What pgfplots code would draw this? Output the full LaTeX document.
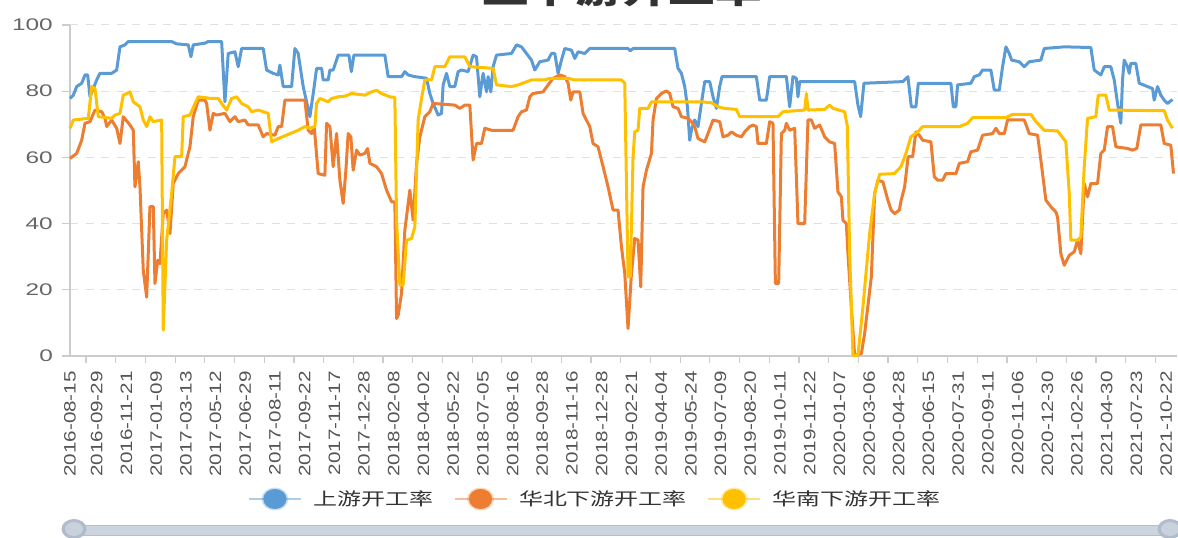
\documentclass[border=0pt]{standalone}
\usepackage{fontspec}
\usepackage{pgfplots}
\pgfplotsset{compat=1.18}
\setmainfont{Liberation Sans}
\newfontfamily\ylabfont[FakeStretch=1.45]{Liberation Sans}
\newfontfamily\xlabfont[FakeStretch=1.25]{Liberation Sans}
\newfontfamily\cjkfont[FakeStretch=1.37]{Noto Sans CJK SC}
\definecolor{cblue}{HTML}{5B9BD5}
\definecolor{corange}{HTML}{ED7D31}
\definecolor{cyellow}{HTML}{FFC000}
\definecolor{axgray}{HTML}{CCCCCC}
\definecolor{gridgray}{HTML}{E0E0E0}
\definecolor{labgray}{HTML}{666666}
\definecolor{xlabgray}{HTML}{555555}
\definecolor{legtext}{HTML}{333333}
\definecolor{sliderfill}{HTML}{CBD4DF}
\definecolor{slideredge}{HTML}{B3BFCD}
\definecolor{handleout}{HTML}{B0BCCB}
\definecolor{handlein}{HTML}{C8D1DC}
\begin{document}
\begin{tikzpicture}
\begin{axis}[
  at={(70pt,182pt)}, anchor=south west,
  width=1107pt, height=331pt, scale only axis,
  xmin=70, xmax=1177.5, ymin=0, ymax=100,
  axis lines=left,
  axis line style={-, draw=axgray, line width=1.2pt},
  clip=false,
  ytick={0,20,40,60,80,100},
  ymajorgrids,
  grid style={draw=gridgray, line width=1pt, dash pattern=on 8pt off 7.5pt},
  tick align=outside,
  major tick length=8pt,
  tick style={draw=axgray, line width=1.2pt},
  xtick={70,96.72,126.44,156.16,185.88,215.6,245.32,275.04,304.76,334.48,364.2,393.92,423.64,453.36,483.08,512.8,542.52,572.24,601.96,631.68,661.4,691.12,720.84,750.56,780.28,810,839.72,869.44,899.16,928.88,958.6,988.32,1018.04,1047.76,1077.48,1107.2,1136.92,1166.64},
  xticklabels={2016-08-15,2016-09-29,2016-11-21,2017-01-09,2017-03-13,2017-05-12,2017-06-29,2017-08-11,2017-09-22,2017-11-17,2017-12-28,2018-02-08,2018-04-02,2018-05-22,2018-07-05,2018-08-16,2018-09-28,2018-11-16,2018-12-28,2019-02-21,2019-04-04,2019-05-24,2019-07-09,2019-08-20,2019-10-11,2019-11-22,2020-01-07,2020-03-06,2020-04-28,2020-06-15,2020-07-31,2020-09-11,2020-11-06,2020-12-30,2021-02-26,2021-04-30,2021-07-23,2021-10-22},
  xtick style={draw=none},
  extra x ticks={86,115.72,145.44,175.16,204.88,234.6,264.32,294.04,323.76,353.48,383.2,412.92,442.64,472.36,502.08,531.8,561.52,591.24,620.96,650.68,680.4,710.12,739.84,769.56,799.28,829,858.72,888.44,918.16,947.88,977.6,1007.32,1037.04,1066.76,1096.48,1126.2,1155.92},
  extra x tick labels={},
  extra x tick style={major tick length=7pt, xtick style={draw=axgray, line width=1.2pt}},
  /pgf/number format/assume math mode=true,
  xticklabel style={rotate=90, anchor=east, inner sep=0pt, font=\xlabfont\fontsize{16.5pt}{18pt}\selectfont, text=xlabgray},
  xticklabel shift=7pt,
  yticklabel style={anchor=east, inner sep=0pt, font=\ylabfont\fontsize{16.8pt}{18pt}\selectfont, text=labgray},
  yticklabel shift=9pt,
  legend columns=3,
  legend style={draw=none, fill=none, at={(0.4734,-0.432)}, anchor=center, inner sep=0pt,
    font=\cjkfont\fontsize{17.5pt}{20pt}\selectfont, text=legtext, nodes={inner sep=0pt},
    /tikz/every even column/.append style={column sep=20pt}},
  legend image code/.code={
    \draw[line width=2.5pt, opacity=0.5] (0pt,0pt) -- (52pt,0pt);
    \fill[opacity=0.3] (26pt,0pt) ellipse [x radius=12pt, y radius=10pt];
    \fill (26pt,0pt) ellipse [x radius=10pt, y radius=8.5pt];
    \path (63pt,0pt);
  },
]
\addplot[color=cblue, line width=3pt, line join=round] coordinates {
(70,77.8) (73.3,78.8) (76.7,81.4) (81.7,82.4) (85,84.9) (87.7,84.9) (90,78.3) (96.7,83.4) (100,85.4) (111.7,85.4)
(116.7,86.4) (120,93.4) (125,94.0) (128.3,95.0) (171.7,95.0) (176.7,94.3) (188.3,94.0) (191,90.4) (193.3,94.0) (205,94.5)
(208.3,95.0) (221.7,95.0) (225,76.8) (228.3,91.4) (235,91.9) (238.3,87.4) (241.7,92.9) (263.3,92.9) (266.7,86.4) (273.3,85.4)
(278.3,84.9) (280,87.9) (283.3,81.4) (291.7,81.4) (295,92.9) (298.3,91.4) (303.3,81.4) (310,72.3) (314.3,81.4) (316.7,86.9)
(321.7,86.9) (323.3,83.4) (328.3,83.4) (330,86.4) (333.3,86.4) (338.3,90.9) (349,90.9) (351.5,85.9) (354,90.9) (385,90.9)
(388.3,84.4) (401.7,84.4) (405,85.9) (408.3,84.9) (415,84.4) (426.7,83.9) (430,79.3) (433.3,76.3) (438.3,72.8) (441.7,73.3)
(443.3,81.9) (446.7,85.4) (450,81.4) (455,81.4) (458.3,85.9) (461.7,86.4) (468.3,85.9) (473.3,90.9) (476.7,90.4) (480,78.3)
(483.3,85.4) (486.7,79.8) (488.3,84.4) (491,79.8) (493.3,87.4) (496.7,90.9) (511.7,91.4) (516.7,94.0) (521.7,93.4) (526.7,91.4)
(531.7,89.4) (535,86.4) (540,88.9) (548.3,89.4) (551.7,91.4) (555,91.4) (558.3,85.4) (561.7,89.4) (565,92.9) (571.7,92.4)
(575,89.9) (578.3,91.9) (585,91.4) (590,92.9) (628.3,92.9) (630.5,92.2) (633.3,92.9) (675,92.9) (678.3,86.9) (681.7,85.4)
(685,81.4) (687.7,75.3) (690,65.2) (691.7,68.2) (695,71.3) (698.3,69.3) (701.7,76.3) (705,82.9) (710,82.9) (713.3,78.3)
(716.7,74.8) (720,81.4) (722.3,84.4) (756.7,84.4) (760,77.3) (766.7,77.3) (770,84.4) (786.7,84.4) (790,75.3) (793.3,84.4)
(796.7,83.9) (798.3,78.3) (800,82.9) (855,82.9) (858.3,75.8) (861,72.3) (864.3,82.4) (903.3,82.9) (908.3,84.4) (911.7,75.3)
(916.3,75.3) (918.7,82.4) (951.3,82.4) (953.7,75.3) (956.3,75.3) (958,81.9) (971.3,82.4) (974.7,84.4) (979.7,84.9) (983,86.4)
(991.3,86.4) (994.7,80.3) (999.7,80.3) (1003,87.4) (1006.3,93.4) (1009.7,91.4) (1012,89.4) (1019.7,88.9) (1024.7,87.4) (1029.7,88.9)
(1041.3,89.4) (1044.7,92.9) (1064.7,93.4) (1091.3,93.2) (1094.7,86.4) (1101.3,84.9) (1104.7,87.4) (1111.3,87.4) (1114.7,83.4) (1118,76.3)
(1121.3,70.3) (1123,83.4) (1124.7,89.4) (1128,87.4) (1129.7,85.4) (1131.3,88.4) (1136.3,88.4) (1139.7,82.4) (1148,81.4) (1153,80.8)
(1154.7,77.3) (1158,81.4) (1161.3,78.8) (1164.7,77.3) (1168,76.3) (1173,77.5)
};
\addlegendentry{上游开工率}
\addplot[color=corange, line width=3pt, line join=round] coordinates {
(70,59.7) (76.7,61.2) (81.7,65.2) (85,70.3) (90,70.8) (95,74.3) (101.7,73.8) (105,71.8) (106.7,69.3) (111.7,71.3)
(116.7,68.8) (120,64.2) (123.3,72.3) (130,69.8) (133.3,68.2) (135,51.1) (138.3,58.7) (140,51.1) (143.3,25.9) (146.7,17.8)
(150,45.1) (153.3,45.1) (155,21.9) (157.7,28.9) (160,27.9) (163.3,43.0) (166.7,44.1) (170,37.0) (173.3,52.1) (178.3,55.1)
(185,57.2) (190,63.2) (193.3,72.3) (198.3,77.3) (205,77.3) (206.7,76.3) (210,68.2) (213.3,73.3) (216.7,72.8) (225,73.3)
(230,70.8) (235,72.3) (238.3,70.8) (245,71.3) (248.3,69.8) (258.3,69.8) (263.3,66.2) (266.7,67.2) (275,66.7) (278.3,69.3)
(281.7,69.3) (285,77.3) (305,77.3) (308.3,68.2) (311.7,67.2) (314.3,69.3) (318.3,55.1) (325,54.6) (326.7,70.3) (330,69.3)
(333.3,57.2) (336.7,67.2) (340,53.1) (343.3,46.1) (346,56) (348.3,67.2) (351,66.2) (353.3,56.1) (356.7,62.2) (360,60.7)
(365,61.2) (367.7,62.7) (370,58.2) (376.7,57.2) (381.7,55.1) (386.7,50.1) (391.7,46.6) (395,46.6) (396.7,11.3) (398.3,12.3)
(401.7,18.9) (405,38.0) (410,50.1) (413.3,41.0) (416.7,58.2) (420,66.2) (425,72.3) (430,73.8) (433.3,76.3) (455,75.8)
(460,74.8) (465,75.8) (470,75.8) (473.3,59.2) (476.7,64.2) (481.7,64.2) (485,68.8) (491.7,68.2) (513.3,68.2) (518.3,72.3)
(521.7,73.8) (526.7,74.3) (530,78.3) (533.3,79.3) (543.3,79.8) (548.3,81.9) (553.3,83.9) (560,84.9) (565,84.4) (568.3,82.4)
(571,77.3) (573.3,79.8) (580,79.8) (583.3,73.3) (590,69.3) (593.3,64.2) (598.3,63.2) (603.3,57.2) (608.3,51.1) (613.3,44.1)
(618.3,44.1) (621.7,33.0) (625,25) (628.3,8.3) (631.7,24.9) (635,35.5) (638.3,35.0) (641,20.9) (643.3,51.1) (646.7,56.1)
(651.7,61.2) (653.3,71.3) (656.7,77.8) (661.7,79.3) (666.7,80.1) (670,79.3) (673.3,75.3) (678.3,74.8) (681.7,72.3) (688.3,71.8)
(691.7,70.8) (695,69.3) (698.3,65.7) (705,64.7) (708.3,67.2) (713.3,71.3) (720,70.8) (723.3,66.2) (728.3,66.7) (731.7,67.7)
(736.7,66.7) (741.7,66.2) (745,67.7) (750,69.3) (753.3,69.8) (756.7,69.3) (758.3,64.2) (766.7,64.2) (770,70.8) (773.3,70.3)
(775.7,21.9) (779,21.9) (781.7,67.2) (785,68.2) (786.7,70.3) (790,68.2) (795,68.8) (798.3,40.0) (805,40.0) (808.3,71.3)
(811.7,71.3) (815,68.8) (820,69.8) (825,66.2) (830,64.7) (835,64.2) (838.3,49.6) (841.7,48.1) (843.3,41.0) (846.7,40.0)
(848.3,30.9) (851.7,14.8) (855,0.2) (861.7,0.7) (865,6.8) (871.7,23.9) (875,49.1) (878.3,53.1) (883.3,52.6) (888.3,47)
(891.5,44.1) (895,43.0) (899.7,44.1) (901.5,47) (905,51.1) (908.5,60.2) (913,60.2) (916.3,67.7) (919.7,66.7) (923,65.2)
(931.3,64.7) (934.7,54.1) (938,53.1) (943,53.1) (946.3,55.1) (956.3,55.1) (959.7,58.2) (968,58.7) (971.3,61.7) (978,62.2)
(983,66.7) (993,67.2) (996.3,68.8) (999.7,67.2) (1004.7,67.2) (1008,71.3) (1024.7,71.3) (1029.7,67.2) (1038,66.7) (1041.3,59.2)
(1046.3,47.1) (1051.3,45.1) (1056.3,43.5) (1058,42.0) (1061.3,30.9) (1064.7,27.4) (1069.7,30.4) (1074.7,31.5) (1078,35.0) (1081.3,30.9)
(1084.7,52.1) (1088,48.1) (1091.3,52.1) (1098,52.1) (1101.3,61.2) (1104.7,62.2) (1108,69.3) (1113,69.3) (1116.3,63.2) (1128,62.7)
(1133,62.2) (1137.3,62.7) (1141.3,69.8) (1161.3,69.8) (1164.7,64.2) (1171.3,63.7) (1174,55.1)
};
\addlegendentry{华北下游开工率}
\addplot[color=cyellow, line width=3pt, line join=round] coordinates {
(70,68.8) (73.3,71.3) (88.3,71.8) (91.7,81.4) (95,80.8) (98.3,72.3) (111.7,71.8) (115,72.8) (120,73.3) (123.3,78.8)
(130,79.8) (133.3,76.8) (140,75.3) (143.3,71.3) (146.7,69.3) (150,72.3) (153.3,70.8) (161.7,71.3) (163.3,7.8) (166.7,35.0)
(171.7,49.1) (175,60.2) (181.7,60.2) (183.3,72.3) (190,72.8) (196.7,77.3) (198.3,78.3) (211.7,77.8) (218.3,77.8) (221.7,76.3)
(226.7,74.3) (231.7,77.8) (236.7,78.3) (241.7,76.3) (248.3,75.3) (251.7,73.8) (258.3,74.3) (268.3,73.3) (271.7,64.7) (278.3,65.7)
(298.3,68.2) (305,69.3) (310,68.8) (315,69.3) (316.7,76.3) (320,77.8) (328.3,76.8) (331.7,77.8) (338.3,78.3) (345,78.5)
(351.7,79.3) (365,78.8) (371.7,79.8) (376.7,80.3) (381.7,79.3) (390,78.3) (395,78.1) (396.7,41.0) (400,21.4) (403.3,21.4)
(406.7,35.0) (411.7,35.5) (415,39.0) (418.3,71.3) (421.7,77.8) (425,83.4) (431.7,83.4) (435,87.4) (445,87.4) (450,90.4)
(465,90.4) (470,87.4) (493.3,86.9) (496.7,81.9) (511.7,81.4) (518.3,81.9) (531.7,83.4) (545,83.4) (550,83.9) (568.3,83.9)
(575,83.4) (621.7,83.4) (625,82.4) (628.3,23.9) (630.5,23.9) (633.3,60) (635,67.7) (638.3,68.2) (640,74.8) (648.3,74.8)
(651.7,76.8) (701.7,76.8) (711.7,76.5) (718.3,75.3) (725,74.8) (736.7,74.5) (740,72.3) (778.3,72.3) (783.3,73.8) (805,74.3)
(806.7,79.3) (808.3,74.3) (825,74.5) (830,75.8) (833.3,74.8) (845,73.8) (847.7,69.3) (850,30.9) (853.3,0.2) (858.3,0.2)
(863.3,14.8) (870,37.0) (875,49.1) (880,54.9) (894.7,55.1) (901.3,57.2) (906.3,61.2) (911.3,66.2) (918,67.7) (923,69.3)
(959.7,69.3) (968,70.3) (973,72.0) (1006.3,72.0) (1013,73.0) (1031.3,73.0) (1036.3,70.8) (1044.7,68.2) (1058,68.0) (1061.3,66.7)
(1066.3,64.7) (1069.7,49.1) (1071.3,35.0) (1078,35.0) (1081.3,36.0) (1084.7,57.2) (1088,71.8) (1096.3,72.3) (1098.7,78.8) (1106.3,78.8)
(1109.7,74.3) (1164.7,74.1) (1168,71.3) (1173,68.8)
};
\addlegendentry{华南下游开工率}
\end{axis}
% data-zoom slider below the legend
\fill[sliderfill, draw=slideredge, line width=0.8pt] (78pt,3pt) rectangle (1168pt,13pt);
\fill[handleout] (74pt,9pt) ellipse [x radius=12.5pt, y radius=10pt];
\fill[handlein] (74pt,9pt) ellipse [x radius=9pt, y radius=7pt];
\fill[handleout] (1170pt,9pt) ellipse [x radius=12.5pt, y radius=10pt];
\fill[handlein] (1170pt,9pt) ellipse [x radius=9pt, y radius=7pt];
% title, mostly above the visible area as in the reference
\node[anchor=south, inner sep=0pt, font=\cjkfont\bfseries\fontsize{34pt}{38pt}\selectfont, text=black!80] at (622pt,531pt) {上下游开工率};
\pgfresetboundingbox
\useasboundingbox (0pt,0pt) rectangle (1178pt,538pt);
\end{tikzpicture}
\end{document}
